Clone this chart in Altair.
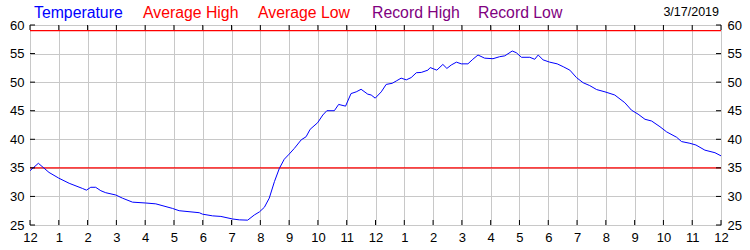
import altair as alt
import pandas as pd

hours = [0, 0.29, 0.66, 1.0, 1.36, 1.82, 1.96, 2.11, 2.28, 2.46, 2.63, 2.98, 3.21, 3.56,
         4.02, 4.37, 4.95, 5.18, 5.88, 5.99, 6.34, 6.63, 7.04, 7.27, 7.56, 7.79, 7.97,
         8.14, 8.31, 8.49, 8.66, 8.83, 9.0, 9.18, 9.42, 9.59, 9.73, 9.99, 10.17, 10.31,
         10.57, 10.72, 10.8, 10.96, 11.15, 11.33, 11.5, 11.73, 11.85, 11.99, 12.2, 12.37,
         12.58, 12.72, 12.89, 13.07, 13.24, 13.42, 13.59, 13.82, 13.9, 14.13, 14.34,
         14.48, 14.63, 14.81, 14.98, 15.21, 15.38, 15.56, 15.79, 16.08, 16.31, 16.49,
         16.75, 16.89, 17.07, 17.36, 17.53, 17.65, 17.82, 18.05, 18.31, 18.52, 18.75,
         18.98, 19.21, 19.44, 19.68, 19.97, 20.31, 20.66, 20.89, 21.12, 21.36, 21.59,
         21.88, 22.11, 22.46, 22.63, 22.92, 23.13, 23.44, 23.79, 24.0]
temps = [34.5, 35.8, 34.2, 33.2, 32.3, 31.4, 31.1, 31.6, 31.6, 31.0, 30.65, 30.25, 29.7, 29.0,
         28.85, 28.7, 27.9, 27.5, 27.15, 26.9, 26.6, 26.5, 26.05, 25.9, 25.85, 26.75, 27.3,
         28.1, 29.7, 32.6, 34.9, 36.5, 37.4, 38.4, 39.9, 40.45, 41.75, 42.9, 44.25, 45.0,
         45.0, 46.1, 46.0, 45.8, 48.0, 48.3, 48.75, 47.9, 47.75, 47.2, 48.3, 49.6,
         49.8, 50.2, 50.7, 50.4, 50.8, 51.65, 51.7, 52.1, 52.55, 52.1, 53.1,
         52.4, 53.0, 53.5, 53.2, 53.2, 54.0, 54.75, 54.2, 54.1, 54.45, 54.6,
         55.45, 55.15, 54.35, 54.35, 54.0, 54.75, 53.9, 53.5, 53.2, 52.7, 52.1,
         50.8, 49.9, 49.4, 48.7, 48.3, 47.75, 46.4, 45.1, 44.4, 43.5, 43.2,
         42.2, 41.3, 40.35, 39.6, 39.3, 39.0, 38.1, 37.65, 37.1]

avg_high = 59
avg_low = 35
hour_ticks = list(range(0, 25))
temp_ticks = [25, 30, 35, 40, 45, 50, 55, 60]
legend_labels = ["Temperature", "Average High", "Average Low", "Record High", "Record Low"]
legend_colors = ["#0000ff", "#ff0000", "#ff0000", "#800080", "#800080"]
legend_x = [4, 113, 228, 342, 448]
date_label = "3/17/2019"

FONT = "Liberation Sans"
xdom = [0, 24]
ydom = [25, 60]

temp_df = pd.DataFrame({"h": hours, "t": temps})
norm_df = pd.DataFrame({"v": [avg_high, avg_low], "name": ["Average High", "Average Low"]})
xt_df = pd.DataFrame({"h": hour_ticks})
yt_df = pd.DataFrame({"t": temp_ticks})

label_expr = "datum.value % 12 == 0 ? '12' : '' + (datum.value % 12)"

xscale = alt.Scale(domain=xdom, nice=False, zero=False)
yscale = alt.Scale(domain=ydom, nice=False, zero=False)

x_axis = alt.Axis(values=hour_ticks, labelExpr=label_expr, grid=True, gridColor="#c8c8c8",
                  domain=False, ticks=False, labelPadding=6, labelFontSize=13,
                  labelColor="#000000", labelFont=FONT, title=None, labelFlush=False,
                  labelOverlap=False)
y_left = alt.Axis(values=temp_ticks, grid=True, gridColor="#c8c8c8", domain=False, ticks=False,
                  labelPadding=6, labelFontSize=13, labelColor="#000000", labelFont=FONT,
                  title=None, orient="left", labelFlush=False, labelOverlap=False)
y_right = alt.Axis(values=temp_ticks, grid=False, domain=False, ticks=False,
                   labelPadding=6, labelFontSize=13, labelColor="#000000", labelFont=FONT,
                   title=None, orient="right", labelFlush=False, labelOverlap=False)

red_lines = alt.Chart(norm_df).mark_rule(color="#ff0000", strokeWidth=1.2).encode(
    y=alt.Y("v:Q", scale=yscale, axis=y_right)
)

temp_line = alt.Chart(temp_df).mark_line(color="#0000ff", strokeWidth=1).encode(
    x=alt.X("h:Q", scale=xscale, axis=x_axis),
    y=alt.Y("t:Q", scale=yscale, axis=y_left),
)

tick_len_y = 5 * 35 / 200
tick_len_x = 5 * 24 / 691
bottom_ticks = alt.Chart(xt_df).transform_calculate(y1="25", y2=f"25+{tick_len_y}").mark_rule(
    color="#000000").encode(x=alt.X("h:Q", scale=xscale, axis=x_axis),
                            y=alt.Y("y1:Q", scale=yscale, axis=y_left), y2="y2:Q")
top_ticks = alt.Chart(xt_df).transform_calculate(y1=f"60-{tick_len_y}", y2="60").mark_rule(
    color="#000000").encode(x=alt.X("h:Q", scale=xscale, axis=x_axis),
                            y=alt.Y("y1:Q", scale=yscale, axis=y_left), y2="y2:Q")
left_ticks = alt.Chart(yt_df).transform_calculate(x1="0", x2=f"{tick_len_x}").mark_rule(
    color="#000000").encode(x=alt.X("x1:Q", scale=xscale, axis=x_axis), x2="x2:Q",
                            y=alt.Y("t:Q", scale=yscale, axis=y_left))
right_ticks = alt.Chart(yt_df).transform_calculate(x1=f"24-{tick_len_x}", x2="24").mark_rule(
    color="#000000").encode(x=alt.X("x1:Q", scale=xscale, axis=x_axis), x2="x2:Q",
                            y=alt.Y("t:Q", scale=yscale, axis=y_left))

leg_df = pd.DataFrame({"label": legend_labels, "color": legend_colors, "px": legend_x})
legend = alt.Chart(leg_df).mark_text(align="left", baseline="middle", fontSize=15.8,
                                     font=FONT).encode(
    x=alt.X("px:Q", scale=None),
    y=alt.value(-12.5),
    text="label:N",
    color=alt.Color("color:N", scale=None),
)
date_df = pd.DataFrame({"label": [date_label]})
date_text = alt.Chart(date_df).mark_text(align="right", baseline="middle", fontSize=12.5,
                                         font=FONT, color="#000000").encode(
    x=alt.value(689), y=alt.value(-13), text="label:N")

main = alt.layer(temp_line, bottom_ticks, top_ticks, left_ticks, right_ticks)
texts = alt.layer(legend, date_text)

chart = alt.layer(red_lines, main, texts).resolve_scale(y="independent", x="independent").properties(
    width=691, height=200,
    padding={"left": 30, "top": 25, "right": 29, "bottom": 25},
    autosize=alt.AutoSizeParams(type="none"),
    background="#ffffff",
).configure_view(stroke="#000000", strokeWidth=1).configure(font=FONT).configure_axis(
    labelOverlap=False)

chart.save("out.html", embed_options={"renderer": "svg", "actions": False})
